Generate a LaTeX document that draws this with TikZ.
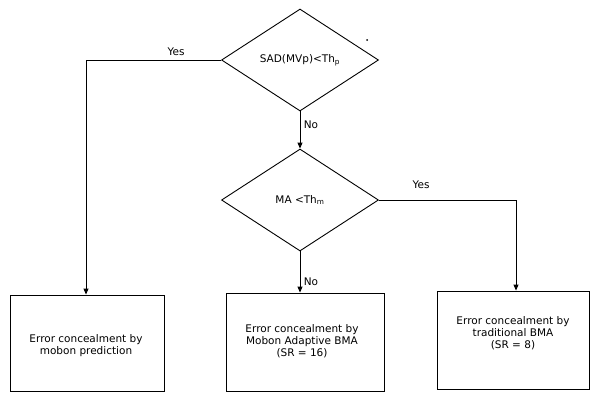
\documentclass[tikz,border=0pt]{standalone}
\usepackage{fontspec}
\setmainfont{DejaVu Sans}
\usetikzlibrary{arrows.meta,shapes.geometric}
\begin{document}
\begin{tikzpicture}[x=1pt,y=-1pt,
  every node/.style={font=\fontsize{10.5}{12}\selectfont, inner sep=0pt},
  decision/.style={draw, line width=0.9pt, diamond, minimum width=157pt, minimum height=102pt, aspect=1.5},
  procbox/.style={draw, line width=0.9pt, rectangle, align=center},
  flow/.style={line width=0.9pt, -{Triangle[length=6pt,width=5pt]}},
  lbl/.style={font=\fontsize{10.5}{12}\selectfont}]
\useasboundingbox (0,0) rectangle (591,392);
\node[decision] (d1) at (300,60) {SAD(MVp)<Th\textsubscript{p}};
\node[decision] (d2) at (300,200) {\raisebox{-4pt}{MA <Th\textsubscript{m}}};
\node[procbox, minimum width=154pt, minimum height=96pt] (b1) at (87,343) {};
\node[procbox, minimum width=158pt, minimum height=98pt] (b2) at (305,342) {};
\node[procbox, minimum width=152pt, minimum height=98pt] (b3) at (513,340) {};
\node[align=center] (t1) at (86,346) {Error concealment by\\mobon prediction};
\node[align=center] (t2) at (302,341) {Error concealment by\\Mobon Adaptive BMA\\(SR = 16)};
\node[align=center] (t3) at (513,333) {Error concealment by\\traditional BMA\\(SR = 8)};
\coordinate (c1) at (86,60);
\coordinate (c2) at (516,200);
\draw[flow] (d1.west) -- (c1) -- (c1 |- b1.north);
\draw[flow] (d1.south) -- (d2.north);
\draw[flow] (d2.south) -- (d2.south |- b2.north);
\draw[flow] (d2.east) -- (c2) -- (c2 |- b3.north);
\node[lbl] (y1) at (176,52) {Yes};
\node[lbl] (n1) at (311,125) {No};
\node[lbl] (y2) at (421,185) {Yes};
\node[lbl] (n2) at (311,282) {No};
\fill (367,40) circle (1pt);
\end{tikzpicture}
\end{document}
